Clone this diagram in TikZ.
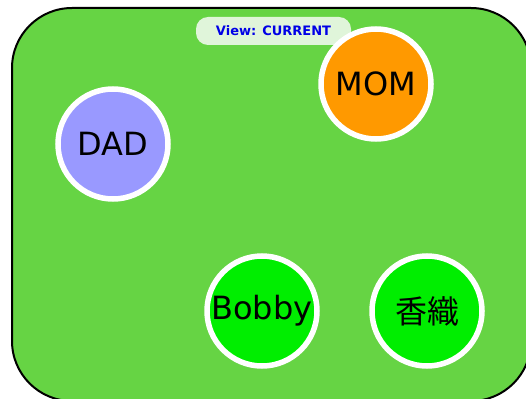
\documentclass[tikz,border=0pt]{standalone}
\usepackage{fontspec}
\setmainfont{DejaVu Sans}
\newfontfamily\cjkfont{Noto Sans CJK JP}
\definecolor{bggreen}{RGB}{102,212,68}
\definecolor{pillfill}{RGB}{224,245,218}
\definecolor{viewblue}{RGB}{0,0,230}
\definecolor{dadfill}{RGB}{153,153,255}
\definecolor{momfill}{RGB}{255,153,0}
\definecolor{kidfill}{RGB}{0,238,0}
\tikzset{
  person/.style={circle, draw=white, line width=5.5pt, minimum size=110pt, inner sep=0pt, font=\fontsize{32}{34}\selectfont, text=black},
  pill/.style={rounded corners=12pt, fill=pillfill, minimum width=155pt, minimum height=28pt, inner sep=0pt, font=\bfseries\fontsize{13}{15}\selectfont, text=viewblue},
}
\begin{document}
\begin{tikzpicture}[x=1pt,y=-1pt]
\useasboundingbox (0,0) rectangle (526,398);
\clip (0,0) rectangle (526,398);
\fill[white] (0,0) rectangle (526,398);
\draw[fill=bggreen, draw=black, line width=2pt, rounded corners=60pt] (12,8) rectangle (531,401);
\node[pill] (view) at (273.5,31) {View: CURRENT};
\node[person, fill=dadfill] (dad) at (113,144) {DAD};
\node[person, fill=momfill] (mom) at (376,84) {MOM};
\node[person, fill=kidfill] (bobby) at (262,311) {Bobby};
\node[person, fill=kidfill] (kaori) at (427,311) {\cjkfont 香織};
\end{tikzpicture}
\end{document}
